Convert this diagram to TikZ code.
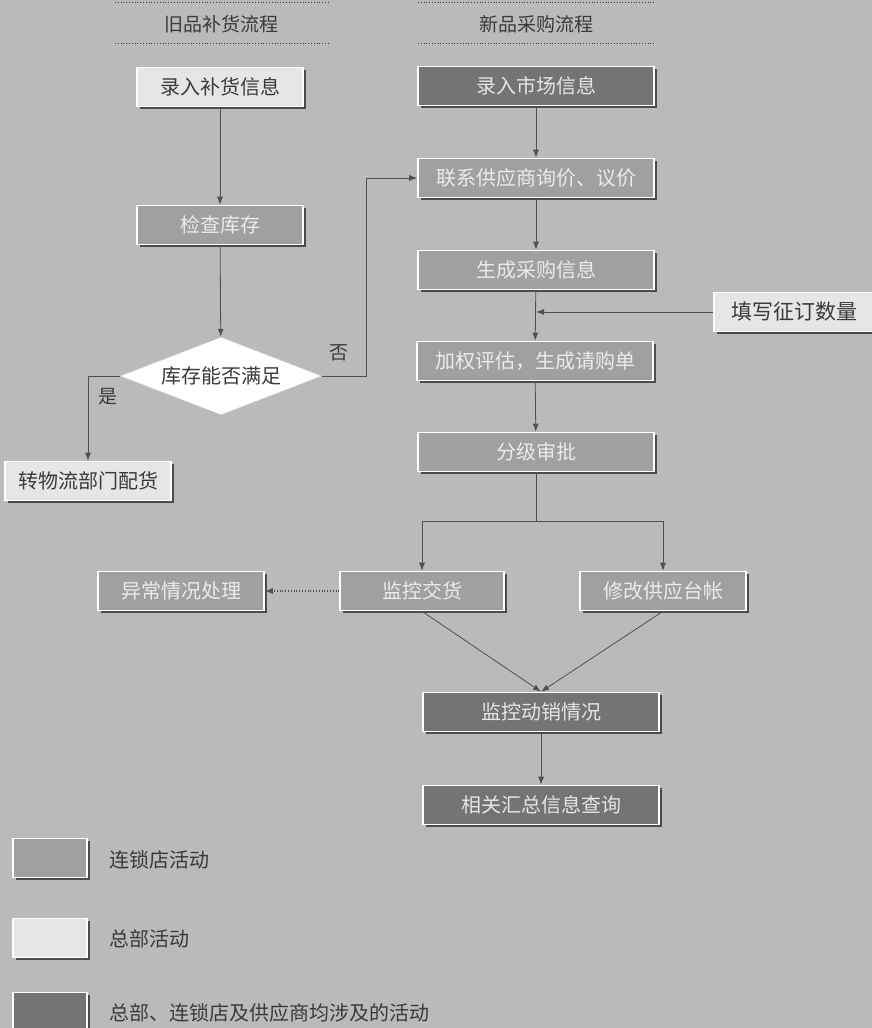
\documentclass[tikz,border=0pt]{standalone}
\usepackage{fontspec}
\newfontfamily\cjk{Noto Sans CJK SC}
\usetikzlibrary{arrows.meta,shapes.geometric,shadows}
\definecolor{bg}{HTML}{BABABA}
\definecolor{lightbox}{HTML}{E6E6E6}
\definecolor{midbox}{HTML}{A0A0A0}
\definecolor{darkbox}{HTML}{747474}
\definecolor{ink}{HTML}{3A3A3A}
\definecolor{wline}{HTML}{505050}
\tikzset{
  basebox/.style={draw=white, line width=1.6pt, minimum height=39pt, inner sep=0pt,
    font=\cjk\fontsize{20}{20}\selectfont,
    drop shadow={shadow xshift=2.5pt, shadow yshift=-2.5pt, fill=black!70, opacity=1}},
  lightb/.style={basebox, fill=lightbox, text=ink},
  midb/.style={basebox, fill=midbox, text=white!92!black},
  darkb/.style={basebox, fill=darkbox, text=white!90!black},
  conn/.style={draw=wline, line width=0.8pt, -{Latex[length=8pt,width=6pt]}},
  plainline/.style={draw=wline, line width=0.8pt},
  hdr/.style={font=\cjk\fontsize{19}{19}\selectfont, text=ink},
  sep/.style={draw=ink, line width=0.8pt, dotted},
  lbl/.style={font=\cjk\fontsize{19}{19}\selectfont, text=ink}
}
\begin{document}
\begin{tikzpicture}[x=1pt,y=-1pt]
\fill[bg] (0,0) rectangle (872,1028);
\useasboundingbox (0,0) rectangle (872,1028);
% headers
\coordinate (hl1) at (115,2); \coordinate (hl2) at (330,2);
\coordinate (hl3) at (115,43); \coordinate (hl4) at (330,43);
\coordinate (hr1) at (418,2); \coordinate (hr2) at (654,2);
\coordinate (hr3) at (418,43); \coordinate (hr4) at (654,43);
\draw[sep] (hl1) -- (hl2); \draw[sep] (hl3) -- (hl4);
\draw[sep] (hr1) -- (hr2); \draw[sep] (hr3) -- (hr4);
\node[hdr] (h1) at (221,24) {旧品补货流程};
\node[hdr] (h2) at (536,24) {新品采购流程};
% left column
\node[lightb, minimum width=166pt] (lr) at (220,87) {录入补货信息};
\node[midb, minimum width=166pt] (jc) at (220,225) {检查库存};
\node[diamond, draw=white!80!black, fill=white, line width=0.6pt, minimum width=202pt, minimum height=78pt, aspect=2.6, inner sep=0pt, font=\cjk\fontsize{20}{20}\selectfont, text=ink] (dm) at (221,376) {库存能否满足};
\node[lightb, minimum width=166pt] (wl) at (88,481) {转物流部门配货};
% right column
\node[darkb, minimum width=236pt] (sc) at (536,86) {录入市场信息};
\node[midb, minimum width=236pt] (lx) at (536,178) {联系供应商询价、议价};
\node[midb, minimum width=236pt] (cg) at (536,270) {生成采购信息};
\node[lightb, minimum width=160pt, font=\cjk\fontsize{21}{21}\selectfont] (tx) at (794,312) {填写征订数量};
\node[midb, minimum width=236pt] (jq) at (535,361) {加权评估，生成请购单};
\node[midb, minimum width=236pt] (fj) at (536,452) {分级审批};
\node[midb, minimum width=166pt] (yc) at (181,591) {异常情况处理};
\node[midb, minimum width=164pt] (jh) at (422,591) {监控交货};
\node[midb, minimum width=166pt] (xg) at (663,591) {修改供应台帐};
\node[darkb, minimum width=236pt] (dx) at (541,712) {监控动销情况};
\node[darkb, minimum width=236pt] (hz) at (541,805) {相关汇总信息查询};
% connectors
\draw[conn] (lr) -- (jc);
\draw[conn] (jc) -- (dm);
\draw[conn] (dm.east) -- ++(44,0) |- (lx.west);
\draw[conn] (dm.west) -| (wl.north);
\node[lbl] (no) at (339,353) {否};
\node[lbl] (yes) at (108,397) {是};
\draw[conn] (sc) -- (lx);
\draw[conn] (lx) -- (cg);
\draw[conn] (cg) -- (jq);
\draw[conn] (tx.west) -- (tx.west -| cg.south);
\draw[conn] (jq) -- (fj);
\draw[plainline] (fj.south) -- ++(0,49) coordinate (br);
\draw[conn] (br) -| (jh.north);
\draw[conn] (br) -| (xg.north);
\draw[conn, dotted, line width=1.1pt] (jh.west) -- (yc.east);
\draw[conn] (jh.south) -- (dx.north);
\draw[conn] (xg.south) -- (dx.north);
\draw[conn] (dx) -- (hz);
% legend
\node[midb, minimum width=74pt] (lg1) at (50,858) {};
\node[lightb, minimum width=74pt] (lg2) at (50,938) {};
\node[darkb, minimum width=74pt] (lg3) at (50,1012) {};
\node[lbl, anchor=west, font=\cjk\fontsize{20}{20}\selectfont] (lt1) at (106,860) {连锁店活动};
\node[lbl, anchor=west, font=\cjk\fontsize{20}{20}\selectfont] (lt2) at (106,939) {总部活动};
\node[lbl, anchor=west, font=\cjk\fontsize{20}{20}\selectfont] (lt3) at (106,1013) {总部、连锁店及供应商均涉及的活动};
\end{tikzpicture}
\end{document}
